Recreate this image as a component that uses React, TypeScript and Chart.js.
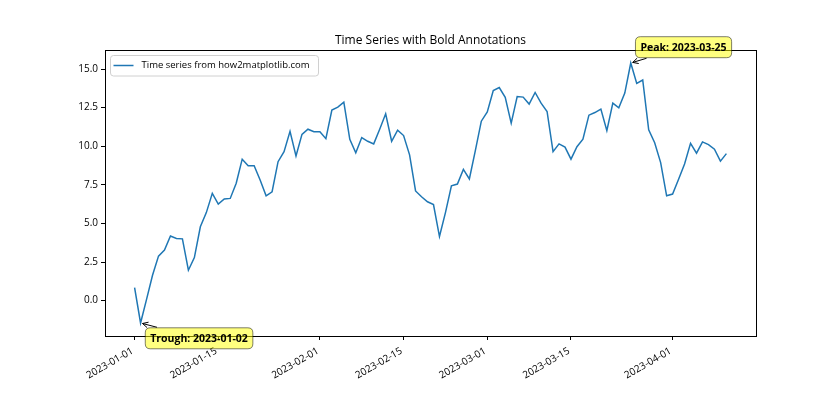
import React, { useEffect, useRef } from "react";
import { Chart, registerables } from "chart.js";

Chart.register(...registerables);

// ---- data ----
const chartTitle = "Time Series with Bold Annotations";
const seriesLabel = "Time series from how2matplotlib.com";
const dayIndex: number[] = Array.from({ length: 100 }, (_, i) => i); // days since 2023-01-01
const seriesValues: number[] = [
  0.84, -1.45, 0.08, 1.64, 2.88, 3.27, 4.18, 4.03, 4.0, 1.97,
  2.79, 4.78, 5.7, 6.95, 6.25, 6.58, 6.62, 7.6, 9.16, 8.73,
  8.73, 7.81, 6.79, 7.05, 9.0, 9.65, 10.96, 9.37, 10.77, 11.1,
  10.94, 10.93, 10.49, 12.34, 12.53, 12.86, 10.45, 9.58, 10.56, 10.32,
  10.15, 11.1, 12.1, 10.32, 11.04, 10.69, 9.44, 7.1, 6.73, 6.4,
  6.22, 4.15, 5.7, 7.43, 7.55, 8.5, 7.88, 9.72, 11.62, 12.22,
  13.6, 13.8, 13.17, 11.49, 13.22, 13.18, 12.73, 13.48, 12.79, 12.25,
  9.65, 10.15, 9.94, 9.16, 9.97, 10.45, 12.01, 12.18, 12.4, 11.01,
  12.79, 12.49, 13.44, 15.39, 14.07, 14.29, 11.06, 10.23, 8.94, 6.79,
  6.9, 7.86, 8.85, 10.19, 9.55, 10.28, 10.1, 9.81, 9.03, 9.52,
];
const xTickDays: number[] = [0, 14, 31, 45, 59, 73, 90];
const xTickLabels: string[] = [
  "2023-01-01", "2023-01-15", "2023-02-01", "2023-02-15",
  "2023-03-01", "2023-03-15", "2023-04-01",
];
const yTickValues: number[] = [0, 2.5, 5, 7.5, 10, 12.5, 15];
const peakText = "Peak: 2023-03-25";
const troughText = "Trough: 2023-01-02";

const FONT = '"Open Sans", "Noto Sans", sans-serif';

function roundRect(ctx: CanvasRenderingContext2D, x: number, y: number, w: number, h: number, r: number) {
  ctx.beginPath();
  ctx.moveTo(x + r, y);
  ctx.lineTo(x + w - r, y);
  ctx.quadraticCurveTo(x + w, y, x + w, y + r);
  ctx.lineTo(x + w, y + h - r);
  ctx.quadraticCurveTo(x + w, y + h, x + w - r, y + h);
  ctx.lineTo(x + r, y + h);
  ctx.quadraticCurveTo(x, y + h, x, y + h - r);
  ctx.lineTo(x, y + r);
  ctx.quadraticCurveTo(x, y, x + r, y);
  ctx.closePath();
}

function drawAnnotation(
  ctx: CanvasRenderingContext2D,
  px: number,
  py: number,
  text: string,
  dx: number,
  dy: number
) {
  ctx.save();
  ctx.font = `bold 10.5px ${FONT}`;
  const tw = ctx.measureText(text).width;
  const pad = 5;
  const h = 21;
  const left = px + dx - pad;
  const cy = py + dy;
  const top = cy - h / 2;
  const w = tw + 2 * pad;
  const cx = left + w / 2;

  // arrow from box edge to point
  const vx = px - cx;
  const vy = py - cy;
  let t = 1;
  if (vx !== 0) t = Math.min(t, Math.abs((w / 2) / vx));
  if (vy !== 0) t = Math.min(t, Math.abs((h / 2) / vy));
  let sx = cx + vx * t;
  let sy = cy + vy * t;
  const len = Math.hypot(px - sx, py - sy);
  const ux = (px - sx) / len;
  const uy = (py - sy) / len;
  sx += ux * 2;
  sy += uy * 2;
  const ex = px - ux * 2;
  const ey = py - uy * 2;
  ctx.strokeStyle = "#000";
  ctx.lineWidth = 1;
  ctx.beginPath();
  ctx.moveTo(sx, sy);
  ctx.lineTo(ex, ey);
  const hl = 5.5;
  const hw = 2.8;
  ctx.moveTo(ex - ux * hl - uy * hw, ey - uy * hl + ux * hw);
  ctx.lineTo(ex, ey);
  ctx.lineTo(ex - ux * hl + uy * hw, ey - uy * hl - ux * hw);
  ctx.stroke();

  roundRect(ctx, left, top, w, h, 5);
  ctx.fillStyle = "rgba(255,255,0,0.5)";
  ctx.fill();
  ctx.strokeStyle = "rgba(0,0,0,0.5)";
  ctx.lineWidth = 1;
  ctx.stroke();

  ctx.fillStyle = "#000";
  ctx.textAlign = "center";
  ctx.textBaseline = "middle";
  ctx.fillText(text, cx, cy + 0.5);
  ctx.restore();
}

const decorPlugin = {
  id: "decor",
  afterDraw(chart: any) {
    const ctx: CanvasRenderingContext2D = chart.ctx;
    const { left, right, top, bottom } = chart.chartArea;
    const xs = chart.scales.x;
    const ys = chart.scales.y;

    // frame
    ctx.save();
    ctx.strokeStyle = "#000";
    ctx.lineWidth = 1;
    ctx.strokeRect(Math.round(left) + 0.5, Math.round(top) + 0.5, Math.round(right - left), Math.round(bottom - top));
    ctx.restore();

    // title
    ctx.save();
    ctx.font = `12px ${FONT}`;
    ctx.fillStyle = "#000";
    ctx.textAlign = "center";
    ctx.textBaseline = "alphabetic";
    ctx.fillText(chartTitle, (left + right) / 2, top - 6);
    ctx.restore();

    // legend
    ctx.save();
    ctx.font = `9.5px ${FONT}`;
    const lw = ctx.measureText(seriesLabel).width;
    const lx = left + 5.5;
    const ly = top + 5.5;
    roundRect(ctx, lx, ly, lw + 40, 20.5, 3);
    ctx.fillStyle = "rgba(255,255,255,0.8)";
    ctx.fill();
    ctx.strokeStyle = "#d0d0d0";
    ctx.lineWidth = 1;
    ctx.stroke();
    ctx.strokeStyle = "#1f77b4";
    ctx.lineWidth = 1.5;
    ctx.beginPath();
    ctx.moveTo(lx + 3, ly + 10);
    ctx.lineTo(lx + 23, ly + 10);
    ctx.stroke();
    ctx.fillStyle = "#000";
    ctx.textBaseline = "middle";
    ctx.textAlign = "left";
    ctx.fillText(seriesLabel, lx + 31, ly + 10);
    ctx.restore();

    // annotations
    let pi = 0;
    let ti = 0;
    seriesValues.forEach((v, i) => {
      if (v > seriesValues[pi]) pi = i;
      if (v < seriesValues[ti]) ti = i;
    });
    drawAnnotation(ctx, xs.getPixelForValue(dayIndex[pi]), ys.getPixelForValue(seriesValues[pi]), peakText, 9.7, -15.8);
    drawAnnotation(ctx, xs.getPixelForValue(dayIndex[ti]), ys.getPixelForValue(seriesValues[ti]), troughText, 9.7, 15.3);
  },
};

export default function App() {
  const ref = useRef<HTMLCanvasElement | null>(null);
  useEffect(() => {
    if (!ref.current) return;
    const n = dayIndex.length;
    const xmin = dayIndex[0];
    const xmax = dayIndex[n - 1];
    const xm = (xmax - xmin) * 0.05;
    const vmin = Math.min(...seriesValues);
    const vmax = Math.max(...seriesValues);
    const ym = (vmax - vmin) * 0.05;
    const chart = new Chart(ref.current, {
      type: "line",
      data: {
        datasets: [
          {
            label: seriesLabel,
            data: dayIndex.map((d, i) => ({ x: d, y: seriesValues[i] })),
            borderColor: "#1f77b4",
            borderWidth: 1.5,
            pointRadius: 0,
            tension: 0,
            fill: false,
          },
        ],
      },
      options: {
        responsive: false,
        animation: false,
        events: [],
        layout: { padding: { left: 0, right: 84, top: 50, bottom: 0 } },
        plugins: {
          legend: { display: false },
          title: { display: false },
          tooltip: { enabled: false },
        },
        scales: {
          x: {
            type: "linear",
            min: xmin - xm,
            max: xmax + xm,
            afterBuildTicks: (axis: any) => {
              axis.ticks = xTickDays.map((v) => ({ value: v }));
            },
            afterFit: (axis: any) => {
              axis.height = 84;
            },
            ticks: {
              autoSkip: false,
              minRotation: 30,
              maxRotation: 30,
              padding: 5,
              labelOffset: -2,
              color: "#000",
              font: { family: FONT, size: 10 },
              callback: (_v: any, i: number) => xTickLabels[i],
            },
            grid: {
              display: true,
              drawOnChartArea: false,
              drawTicks: true,
              tickLength: 4,
              color: "#000",
              lineWidth: 1,
            },
            border: { display: false },
          },
          y: {
            type: "linear",
            min: vmin - ym,
            max: vmax + ym,
            afterBuildTicks: (axis: any) => {
              axis.ticks = yTickValues.map((v) => ({ value: v }));
            },
            afterFit: (axis: any) => {
              axis.width = 105;
            },
            ticks: {
              padding: 3,
              color: "#000",
              font: { family: FONT, size: 10 },
              callback: (v: any) => Number(v).toFixed(1),
            },
            grid: {
              display: true,
              drawOnChartArea: false,
              drawTicks: true,
              tickLength: 4,
              color: "#000",
              lineWidth: 1,
            },
            border: { display: false },
          },
        },
      },
      plugins: [decorPlugin],
    } as any);
    return () => chart.destroy();
  }, []);
  return (
    <div style={{ position: "absolute", left: 0, top: 0, width: 840, height: 420, background: "#fff" }}>
      <canvas ref={ref} width={840} height={420} style={{ display: "block" }} />
    </div>
  );
}
